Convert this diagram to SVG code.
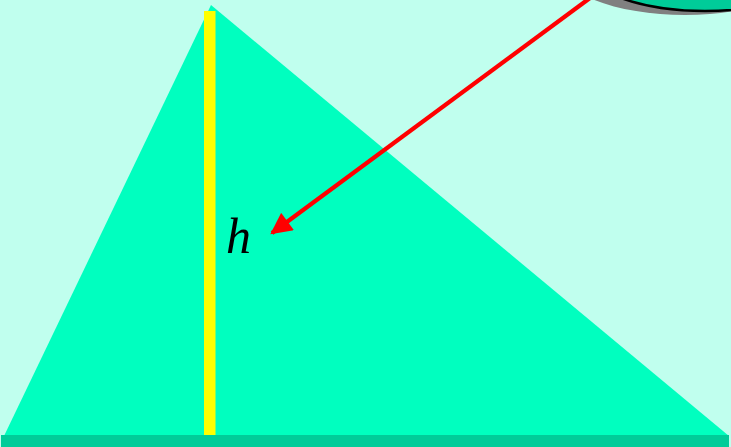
<svg xmlns="http://www.w3.org/2000/svg" width="731" height="447" viewBox="0 0 731 447">
<style>
.lbl{font-family:"Liberation Serif",serif;font-style:italic;font-size:50px;fill:#000}
</style>
<defs>
<marker id="ah" viewBox="0 0 10 10" refX="9" refY="5" markerWidth="5.5" markerHeight="5" orient="auto" markerUnits="strokeWidth">
<path d="M0,0 L10,5 L0,10 z" fill="#FF0000"/>
</marker>
</defs>
<rect width="731" height="447" fill="#C0FFEE"/>
<g id="triangle">
<polygon points="211,5 4,436 729,436" fill="#00FFBF"/>
<rect x="1" y="435" width="728" height="12" fill="#00CC99"/>
</g>
<g id="height">
<rect x="204" y="11" width="11.5" height="424" fill="#FFFF00"/>
</g>
<g id="callout">
<ellipse cx="685" cy="-36" rx="128" ry="51" fill="#808080"/>
<ellipse cx="705" cy="-40" rx="126" ry="51" fill="#00CC99" stroke="#000" stroke-width="2.5"/>
</g>
<g id="label">
<text class="lbl" x="226" y="253">h</text>
</g>
<g id="connectors">
<line x1="590" y1="-2" x2="272" y2="233" stroke="#FF0000" stroke-width="4.3" marker-end="url(#ah)"/>
</g>
</svg>
